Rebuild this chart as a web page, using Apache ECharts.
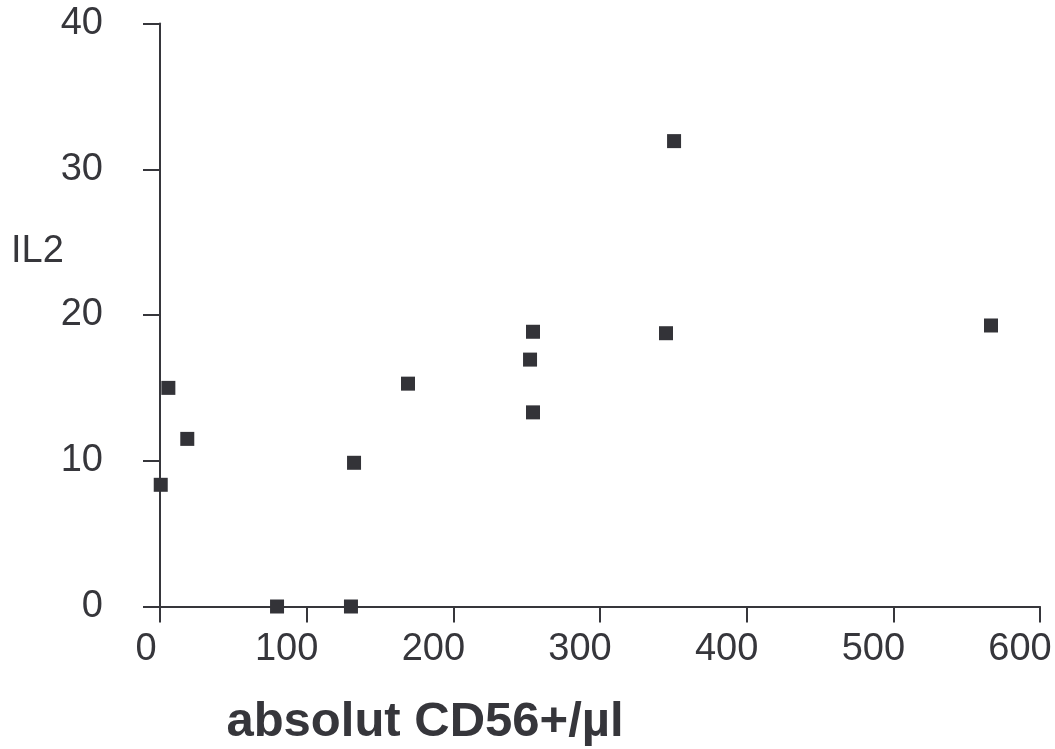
<!DOCTYPE html>
<html>
<head>
<meta charset="utf-8">
<script src="https://cdn.jsdelivr.net/npm/echarts@6/dist/echarts.min.js"></script>
<style>
html,body{margin:0;padding:0;background:#fff;}
#chart{width:1055px;height:749px;}
</style>
</head>
<body>
<div id="chart"></div>
<script>
var cd56 = [0.5, 5.7, 18.6, 79.8, 130.2, 132.3, 169.1, 252.3, 254.3, 254.3, 345.0, 350.5, 566.6];
var il2  = [8.35, 15.0, 11.5, 0, 0, 9.86, 15.29, 16.94, 18.85, 13.32, 18.75, 31.93, 19.28];
var xTicks = [0, 100, 200, 300, 400, 500, 600];
var yTicks = [0, 10, 20, 30, 40];
var xName = 'absolut CD56+/µl';
var yName = 'IL2';

var points = cd56.map(function (x, i) { return [x, il2[i]]; });
var ink = '#36363b';
var font = '"Liberation Sans", Arial, sans-serif';

var chart = echarts.init(document.getElementById('chart'));
chart.setOption({
  animation: false,
  backgroundColor: '#ffffff',
  title: {
    text: yName,
    left: 11, top: 233,
    padding: 0,
    textStyle: { fontFamily: font, fontSize: 38, fontWeight: 'normal', color: ink }
  },
  grid: { left: 160, right: 15, top: 23.5, bottom: 142.5, containLabel: false, outerBoundsMode: 'none' },
  xAxis: {
    type: 'value',
    min: xTicks[0], max: xTicks[xTicks.length - 1], interval: 100,
    name: xName,
    nameLocation: 'middle',
    nameGap: 91,
    nameTextStyle: { fontFamily: font, fontSize: 49, fontWeight: 'bold', color: ink, padding: [0, 350, 0, 0] },
    splitLine: { show: false },
    axisLine: { show: true, onZero: false, lineStyle: { color: ink, width: 2 } },
    axisTick: { show: true, inside: false, length: 16, lineStyle: { color: ink, width: 2 } },
    axisLabel: {
      margin: 24,
      fontFamily: font, fontSize: 38, color: ink,
      formatter: function (v) { return v === 0 ? '{z|0}' : '{n|' + v + '}'; },
      rich: {
        z: { fontFamily: font, fontSize: 38, color: ink, padding: [0, 28, 0, 0] },
        n: { fontFamily: font, fontSize: 38, color: ink, padding: [0, 40, 0, 0] }
      }
    }
  },
  yAxis: {
    type: 'value',
    min: yTicks[0], max: yTicks[yTicks.length - 1], interval: 10,
    splitLine: { show: false },
    axisLine: { show: true, onZero: false, lineStyle: { color: ink, width: 2 } },
    axisTick: { show: true, inside: false, length: 17, lineStyle: { color: ink, width: 2 } },
    axisLabel: { margin: 57, fontFamily: font, fontSize: 38, color: ink }
  },
  series: [{
    type: 'scatter',
    data: points,
    symbol: 'rect',
    symbolSize: 14,
    clip: false,
    itemStyle: { color: '#333338', opacity: 1 }
  }]
});
</script>
</body>
</html>
